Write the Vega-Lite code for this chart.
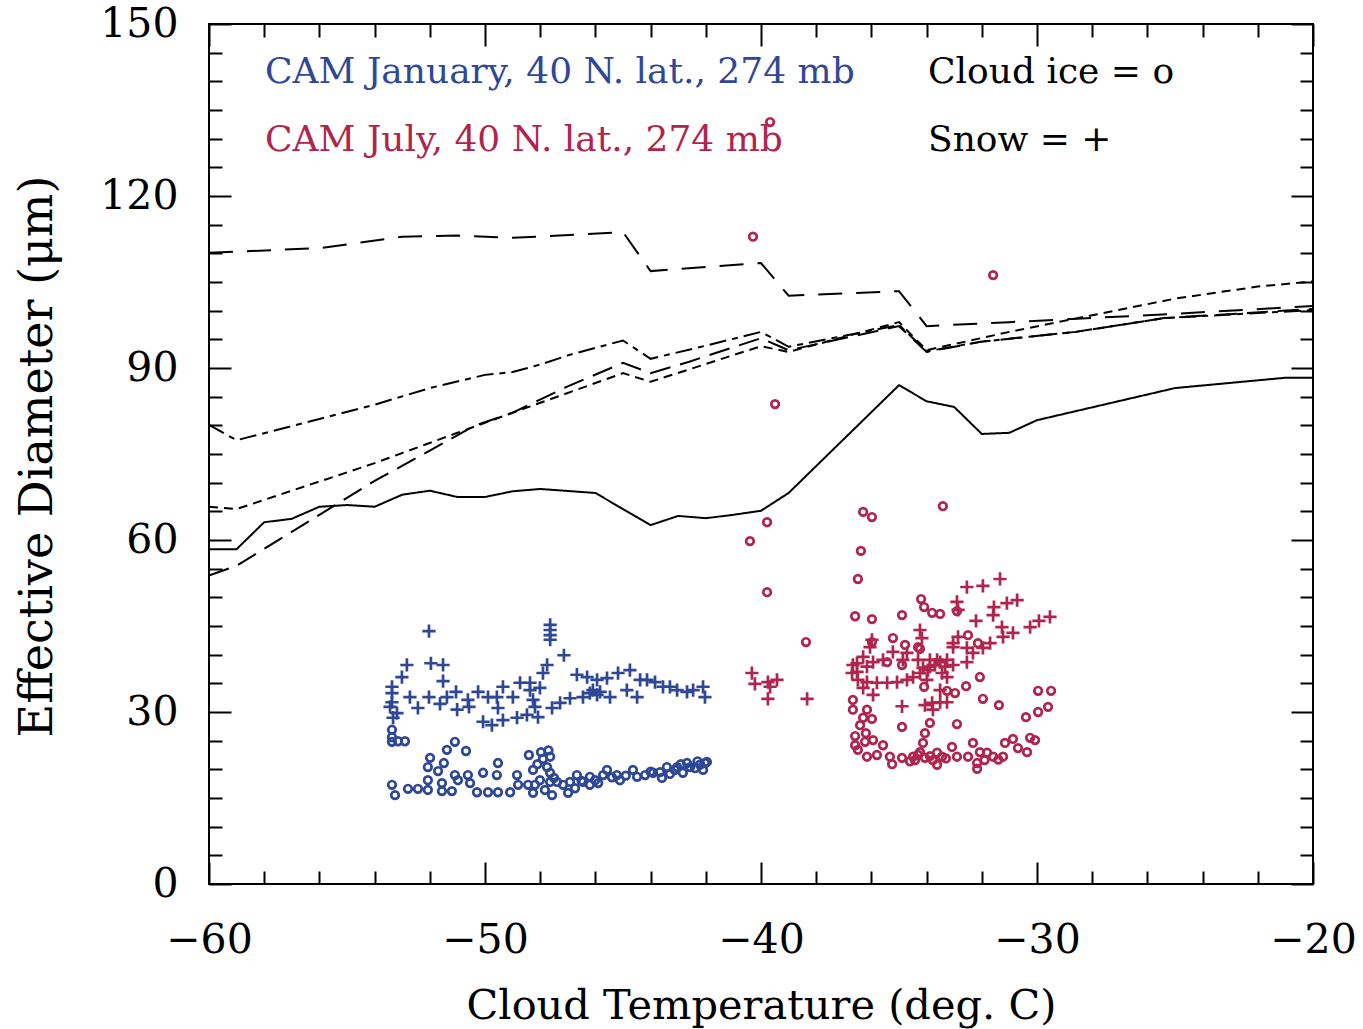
{
  "$schema": "https://vega.github.io/schema/vega-lite/v6.json",
  "width": 1104,
  "height": 860,
  "autosize": {"type": "none"},
  "padding": {"left": 209, "top": 24, "right": 50, "bottom": 145},
  "background": "white",
  "config": {
    "view": {"stroke": "black", "strokeWidth": 2},
    "axis": {"labelFont": "DejaVu Serif", "titleFont": "DejaVu Serif", "labelColor": "black", "titleColor": "black", "grid": false, "domain": false, "tickColor": "black", "tickWidth": 2, "titleFontWeight": "normal", "labelFlush": false, "labelOverlap": false}
  },
  "datasets": {
    "lines": [
      {"s":"A","t":-60,"d":110.1},{"s":"A","t":-56,"d":110.9},{"s":"A","t":-53,"d":112.9},{"s":"A","t":-51,"d":113.1},{"s":"A","t":-49,"d":112.7},{"s":"A","t":-45,"d":113.7},{"s":"A","t":-44,"d":106.9},{"s":"A","t":-40,"d":108.3},{"s":"A","t":-39,"d":102.6},{"s":"A","t":-35,"d":103.4},{"s":"A","t":-34,"d":97.3},{"s":"A","t":-31,"d":98.0},{"s":"A","t":-26,"d":99.2},{"s":"A","t":-20,"d":100.8},
      {"s":"B","t":-60,"d":80.1},{"s":"B","t":-59,"d":77.4},{"s":"B","t":-54,"d":83.6},{"s":"B","t":-52,"d":86.5},{"s":"B","t":-50,"d":88.8},{"s":"B","t":-49,"d":89.3},{"s":"B","t":-48,"d":90.6},{"s":"B","t":-47,"d":92.2},{"s":"B","t":-46,"d":93.5},{"s":"B","t":-45,"d":94.8},{"s":"B","t":-44,"d":91.6},{"s":"B","t":-42,"d":93.9},{"s":"B","t":-40,"d":96.3},{"s":"B","t":-39,"d":93.7},{"s":"B","t":-35,"d":97.5},{"s":"B","t":-34,"d":92.9},{"s":"B","t":-32,"d":94.6},{"s":"B","t":-28.6,"d":96.3},{"s":"B","t":-25.4,"d":98.7},{"s":"B","t":-20,"d":100.1},
      {"s":"C","t":-60,"d":65.8},{"s":"C","t":-59,"d":65.4},{"s":"C","t":-54,"d":73.4},{"s":"C","t":-51,"d":78.7},{"s":"C","t":-49,"d":82.2},{"s":"C","t":-45,"d":89.1},{"s":"C","t":-44,"d":87.6},{"s":"C","t":-40,"d":93.8},{"s":"C","t":-39,"d":92.8},{"s":"C","t":-35,"d":98.0},{"s":"C","t":-34,"d":93.1},{"s":"C","t":-31,"d":96.3},{"s":"C","t":-28,"d":99.2},{"s":"C","t":-25,"d":102.1},{"s":"C","t":-22,"d":104.2},{"s":"C","t":-20,"d":105.1},
      {"s":"D","t":-60,"d":53.8},{"s":"D","t":-59,"d":55.5},{"s":"D","t":-54,"d":70.3},{"s":"D","t":-52,"d":75.6},{"s":"D","t":-50.4,"d":79.9},{"s":"D","t":-49,"d":82.2},{"s":"D","t":-47,"d":86.8},{"s":"D","t":-45,"d":90.9},{"s":"D","t":-44,"d":89.1},{"s":"D","t":-42.6,"d":91.1},{"s":"D","t":-40,"d":95.2},{"s":"D","t":-39,"d":93.1},{"s":"D","t":-35,"d":97.3},{"s":"D","t":-34,"d":92.8},{"s":"D","t":-32,"d":94.6},{"s":"D","t":-28.6,"d":96.3},{"s":"D","t":-25.4,"d":98.7},{"s":"D","t":-20,"d":100.3},
      {"s":"E","t":-60,"d":58.4},{"s":"E","t":-59,"d":58.4},{"s":"E","t":-58,"d":63.1},{"s":"E","t":-57,"d":63.7},{"s":"E","t":-56,"d":65.8},{"s":"E","t":-55,"d":66.1},{"s":"E","t":-54,"d":65.8},{"s":"E","t":-53,"d":67.9},{"s":"E","t":-52,"d":68.6},{"s":"E","t":-51,"d":67.5},{"s":"E","t":-50,"d":67.5},{"s":"E","t":-49,"d":68.5},{"s":"E","t":-48,"d":68.9},{"s":"E","t":-46,"d":68.2},{"s":"E","t":-44,"d":62.6},{"s":"E","t":-43,"d":64.2},{"s":"E","t":-42,"d":63.8},{"s":"E","t":-41,"d":64.4},{"s":"E","t":-40,"d":65.1},{"s":"E","t":-39,"d":68.2},{"s":"E","t":-35,"d":87.0},{"s":"E","t":-34,"d":84.2},{"s":"E","t":-33,"d":83.2},{"s":"E","t":-32,"d":78.5},{"s":"E","t":-31,"d":78.7},{"s":"E","t":-30,"d":80.9},{"s":"E","t":-25,"d":86.5},{"s":"E","t":-21,"d":88.3},{"s":"E","t":-20,"d":88.3}
    ],
    "ice": [
      {"m":"Jan","t":-53.37,"d":26.9},{"m":"Jan","t":-53.37,"d":25.6},{"m":"Jan","t":-53.37,"d":24.8},{"m":"Jan","t":-53.15,"d":24.9},{"m":"Jan","t":-52.9,"d":24.9},{"m":"Jan","t":-51.09,"d":24.8},{"m":"Jan","t":-51.38,"d":23.4},{"m":"Jan","t":-50.69,"d":23.2},{"m":"Jan","t":-51.99,"d":22.0},{"m":"Jan","t":-52.07,"d":20.4},{"m":"Jan","t":-51.49,"d":21.1},{"m":"Jan","t":-51.7,"d":19.7},{"m":"Jan","t":-52.07,"d":18.1},{"m":"Jan","t":-51.09,"d":19.0},{"m":"Jan","t":-50.98,"d":18.1},{"m":"Jan","t":-50.62,"d":19.0},{"m":"Jan","t":-50.54,"d":17.6},{"m":"Jan","t":-50.07,"d":19.4},{"m":"Jan","t":-49.57,"d":19.0},{"m":"Jan","t":-49.53,"d":21.1},{"m":"Jan","t":-48.84,"d":19.0},{"m":"Jan","t":-48.41,"d":22.5},{"m":"Jan","t":-47.97,"d":23.0},{"m":"Jan","t":-47.64,"d":22.2},{"m":"Jan","t":-48.26,"d":19.9},{"m":"Jan","t":-47.75,"d":20.4},{"m":"Jan","t":-47.64,"d":19.4},{"m":"Jan","t":-53.37,"d":17.3},{"m":"Jan","t":-53.26,"d":15.5},{"m":"Jan","t":-52.79,"d":16.6},{"m":"Jan","t":-52.43,"d":16.6},{"m":"Jan","t":-52.07,"d":16.4},{"m":"Jan","t":-51.56,"d":17.6},{"m":"Jan","t":-51.56,"d":16.2},{"m":"Jan","t":-51.2,"d":16.2},{"m":"Jan","t":-50.29,"d":16.0},{"m":"Jan","t":-49.89,"d":16.0},{"m":"Jan","t":-49.53,"d":16.0},{"m":"Jan","t":-49.09,"d":16.0},{"m":"Jan","t":-48.8,"d":17.3},{"m":"Jan","t":-48.44,"d":17.3},{"m":"Jan","t":-48.26,"d":15.9},{"m":"Jan","t":-47.57,"d":15.5},{"m":"Jan","t":-47.64,"d":17.8},{"m":"Jan","t":-47.39,"d":17.8},{"m":"Jan","t":-46.92,"d":17.8},{"m":"Jan","t":-46.99,"d":15.9},{"m":"Jan","t":-46.67,"d":19.0},{"m":"Jan","t":-46.45,"d":17.8},{"m":"Jan","t":-46.2,"d":17.3},{"m":"Jan","t":-46.2,"d":18.7},{"m":"Jan","t":-45.72,"d":19.0},{"m":"Jan","t":-45.58,"d":19.9},{"m":"Jan","t":-45.22,"d":19.0},{"m":"Jan","t":-44.64,"d":19.9},{"m":"Jan","t":-44.49,"d":18.7},{"m":"Jan","t":-43.91,"d":19.4},{"m":"Jan","t":-43.59,"d":18.5},{"m":"Jan","t":-43.41,"d":20.4},{"m":"Jan","t":-43.04,"d":20.4},{"m":"Jan","t":-42.68,"d":21.1},{"m":"Jan","t":-42.83,"d":19.4},{"m":"Jan","t":-42.39,"d":20.2},{"m":"Jan","t":-42.03,"d":21.1},{"m":"Jan","t":-41.96,"d":21.3},{"m":"Jan","t":-42.1,"d":19.9},{"m":"Jan","t":-47.17,"d":17.3},{"m":"Jan","t":-46.74,"d":16.7},{"m":"Jan","t":-46.01,"d":18.1},{"m":"Jan","t":-45.11,"d":18.1},{"m":"Jan","t":-44.2,"d":19.0},{"m":"Jan","t":-43.66,"d":19.5},{"m":"Jan","t":-43.12,"d":19.9},{"m":"Jan","t":-42.57,"d":20.4},{"m":"Jan","t":-42.21,"d":20.8},{"m":"Jan","t":-48.01,"d":18.1},{"m":"Jan","t":-47.83,"d":16.4},{"m":"Jan","t":-48.19,"d":17.3},{"m":"Jan","t":-47.5,"d":18.5},{"m":"Jan","t":-46.5,"d":18.0},{"m":"Jan","t":-45.9,"d":17.6},{"m":"Jan","t":-45.4,"d":18.6},{"m":"Jan","t":-44.9,"d":18.9},{"m":"Jan","t":-44.0,"d":19.6},{"m":"Jan","t":-43.3,"d":19.2},{"m":"Jan","t":-42.9,"d":20.9},{"m":"Jan","t":-42.3,"d":21.4},{"m":"Jan","t":-48.1,"d":20.9},{"m":"Jan","t":-47.9,"d":21.8},{"m":"Jan","t":-47.7,"d":23.3},
      {"m":"Jul","t":-39.78,"d":63.1},{"m":"Jul","t":-40.4,"d":59.8},{"m":"Jul","t":-39.78,"d":50.9},{"m":"Jul","t":-38.37,"d":42.2},{"m":"Jul","t":-36.3,"d":64.9},{"m":"Jul","t":-35.98,"d":64.0},{"m":"Jul","t":-33.41,"d":65.9},{"m":"Jul","t":-36.38,"d":58.1},{"m":"Jul","t":-36.49,"d":53.2},{"m":"Jul","t":-36.59,"d":46.7},{"m":"Jul","t":-35.98,"d":46.2},{"m":"Jul","t":-34.89,"d":46.9},{"m":"Jul","t":-34.2,"d":49.7},{"m":"Jul","t":-34.09,"d":48.3},{"m":"Jul","t":-33.8,"d":47.3},{"m":"Jul","t":-33.51,"d":47.1},{"m":"Jul","t":-32.9,"d":47.6},{"m":"Jul","t":-35.22,"d":42.9},{"m":"Jul","t":-34.78,"d":41.7},{"m":"Jul","t":-34.31,"d":41.3},{"m":"Jul","t":-32.5,"d":43.4},{"m":"Jul","t":-32.14,"d":42.0},{"m":"Jul","t":-35.98,"d":42.2},{"m":"Jul","t":-32.07,"d":36.1},{"m":"Jul","t":-32.57,"d":34.5},{"m":"Jul","t":-34.09,"d":34.4},{"m":"Jul","t":-33.26,"d":33.7},{"m":"Jul","t":-32.97,"d":33.3},{"m":"Jul","t":-31.96,"d":32.3},{"m":"Jul","t":-31.38,"d":31.2},{"m":"Jul","t":-29.96,"d":33.7},{"m":"Jul","t":-29.49,"d":33.7},{"m":"Jul","t":-29.6,"d":30.9},{"m":"Jul","t":-29.96,"d":30.0},{"m":"Jul","t":-30.4,"d":29.1},{"m":"Jul","t":-34.89,"d":27.4},{"m":"Jul","t":-33.88,"d":28.1},{"m":"Jul","t":-32.9,"d":27.9},{"m":"Jul","t":-36.67,"d":32.1},{"m":"Jul","t":-36.67,"d":30.4},{"m":"Jul","t":-36.16,"d":30.4},{"m":"Jul","t":-36.3,"d":29.0},{"m":"Jul","t":-35.98,"d":28.8},{"m":"Jul","t":-36.41,"d":27.7},{"m":"Jul","t":-36.59,"d":25.8},{"m":"Jul","t":-36.2,"d":26.3},{"m":"Jul","t":-36.59,"d":24.2},{"m":"Jul","t":-36.23,"d":24.8},{"m":"Jul","t":-35.94,"d":25.1},{"m":"Jul","t":-36.49,"d":23.4},{"m":"Jul","t":-36.16,"d":22.2},{"m":"Jul","t":-35.58,"d":24.2},{"m":"Jul","t":-35.8,"d":22.5},{"m":"Jul","t":-35.33,"d":22.2},{"m":"Jul","t":-35.25,"d":20.9},{"m":"Jul","t":-34.89,"d":22.0},{"m":"Jul","t":-34.49,"d":22.2},{"m":"Jul","t":-34.24,"d":23.0},{"m":"Jul","t":-34.13,"d":24.6},{"m":"Jul","t":-34.06,"d":26.3},{"m":"Jul","t":-33.88,"d":22.3},{"m":"Jul","t":-33.62,"d":22.9},{"m":"Jul","t":-33.62,"d":20.8},{"m":"Jul","t":-33.44,"d":22.2},{"m":"Jul","t":-33.08,"d":23.9},{"m":"Jul","t":-32.9,"d":22.2},{"m":"Jul","t":-32.5,"d":22.2},{"m":"Jul","t":-32.32,"d":24.6},{"m":"Jul","t":-32.07,"d":23.0},{"m":"Jul","t":-32.17,"d":21.1},{"m":"Jul","t":-32.17,"d":20.1},{"m":"Jul","t":-31.81,"d":22.9},{"m":"Jul","t":-31.59,"d":22.2},{"m":"Jul","t":-31.23,"d":22.2},{"m":"Jul","t":-31.16,"d":24.6},{"m":"Jul","t":-30.87,"d":25.3},{"m":"Jul","t":-30.69,"d":23.7},{"m":"Jul","t":-30.36,"d":23.0},{"m":"Jul","t":-30.25,"d":25.5},{"m":"Jul","t":-30.07,"d":25.1},{"m":"Jul","t":-34.24,"d":41.0},{"m":"Jul","t":-35.43,"d":38.7},{"m":"Jul","t":-34.89,"d":38.2},{"m":"Jul","t":-40.29,"d":112.9},{"m":"Jul","t":-31.59,"d":106.2},{"m":"Jul","t":-39.49,"d":83.7},{"m":"Jul","t":-39.67,"d":132.9},{"m":"Jul","t":-34.31,"d":22.5},{"m":"Jul","t":-34.06,"d":22.0},{"m":"Jul","t":-33.77,"d":21.6},{"m":"Jul","t":-34.42,"d":21.6},{"m":"Jul","t":-34.6,"d":21.4},{"m":"Jul","t":-33.3,"d":21.9},{"m":"Jul","t":-31.9,"d":21.6},{"m":"Jul","t":-31.4,"d":21.7}
    ],
    "snow": [
      {"m":"Jan","t":-52.03,"d":44.1},{"m":"Jan","t":-47.64,"d":45.2},{"m":"Jan","t":-47.64,"d":44.3},{"m":"Jan","t":-47.64,"d":43.4},{"m":"Jan","t":-47.64,"d":42.6},{"m":"Jan","t":-47.14,"d":39.9},{"m":"Jan","t":-52.83,"d":38.2},{"m":"Jan","t":-51.96,"d":38.5},{"m":"Jan","t":-51.52,"d":38.2},{"m":"Jan","t":-53.01,"d":36.1},{"m":"Jan","t":-51.52,"d":35.4},{"m":"Jan","t":-53.37,"d":34.4},{"m":"Jan","t":-53.37,"d":33.3},{"m":"Jan","t":-53.37,"d":31.7},{"m":"Jan","t":-52.72,"d":32.6},{"m":"Jan","t":-52.03,"d":32.6},{"m":"Jan","t":-51.38,"d":32.6},{"m":"Jan","t":-51.05,"d":33.5},{"m":"Jan","t":-52.43,"d":30.7},{"m":"Jan","t":-51.63,"d":31.4},{"m":"Jan","t":-51.01,"d":30.4},{"m":"Jan","t":-50.62,"d":32.1},{"m":"Jan","t":-50.58,"d":30.9},{"m":"Jan","t":-50.25,"d":33.5},{"m":"Jan","t":-49.89,"d":32.6},{"m":"Jan","t":-49.57,"d":32.6},{"m":"Jan","t":-49.53,"d":30.7},{"m":"Jan","t":-49.35,"d":34.4},{"m":"Jan","t":-48.99,"d":32.6},{"m":"Jan","t":-48.73,"d":35.1},{"m":"Jan","t":-48.37,"d":35.1},{"m":"Jan","t":-48.37,"d":33.8},{"m":"Jan","t":-48.26,"d":32.1},{"m":"Jan","t":-48.19,"d":30.9},{"m":"Jan","t":-47.9,"d":36.8},{"m":"Jan","t":-47.75,"d":38.2},{"m":"Jan","t":-48.01,"d":34.2},{"m":"Jan","t":-50.07,"d":28.3},{"m":"Jan","t":-49.75,"d":27.7},{"m":"Jan","t":-49.35,"d":28.6},{"m":"Jan","t":-48.84,"d":29.0},{"m":"Jan","t":-48.48,"d":29.5},{"m":"Jan","t":-48.08,"d":29.1},{"m":"Jan","t":-47.57,"d":30.7},{"m":"Jan","t":-47.28,"d":31.6},{"m":"Jan","t":-46.92,"d":32.4},{"m":"Jan","t":-46.67,"d":36.5},{"m":"Jan","t":-46.3,"d":36.1},{"m":"Jan","t":-45.94,"d":35.6},{"m":"Jan","t":-45.58,"d":35.9},{"m":"Jan","t":-46.45,"d":32.6},{"m":"Jan","t":-46.2,"d":33.3},{"m":"Jan","t":-45.94,"d":33.0},{"m":"Jan","t":-45.47,"d":32.6},{"m":"Jan","t":-45.18,"d":36.8},{"m":"Jan","t":-44.75,"d":37.3},{"m":"Jan","t":-44.86,"d":33.8},{"m":"Jan","t":-44.49,"d":32.6},{"m":"Jan","t":-44.38,"d":35.6},{"m":"Jan","t":-44.13,"d":35.6},{"m":"Jan","t":-43.84,"d":35.2},{"m":"Jan","t":-43.55,"d":34.4},{"m":"Jan","t":-43.3,"d":34.4},{"m":"Jan","t":-43.04,"d":33.8},{"m":"Jan","t":-42.68,"d":33.5},{"m":"Jan","t":-42.46,"d":33.8},{"m":"Jan","t":-42.1,"d":34.4},{"m":"Jan","t":-42.03,"d":32.6},{"m":"Jan","t":-53.19,"d":29.8},{"m":"Jan","t":-53.33,"d":29.0},{"m":"Jan","t":-53.44,"d":30.9},{"m":"Jan","t":-46.09,"d":33.8},{"m":"Jan","t":-45.83,"d":33.5},
      {"m":"Jul","t":-40.33,"d":36.8},{"m":"Jul","t":-40.22,"d":34.9},{"m":"Jul","t":-39.75,"d":35.2},{"m":"Jul","t":-39.42,"d":35.6},{"m":"Jul","t":-39.75,"d":32.3},{"m":"Jul","t":-38.33,"d":32.3},{"m":"Jul","t":-39.67,"d":34.4},{"m":"Jul","t":-31.34,"d":53.2},{"m":"Jul","t":-31.96,"d":52.0},{"m":"Jul","t":-32.54,"d":51.8},{"m":"Jul","t":-32.9,"d":49.2},{"m":"Jul","t":-32.86,"d":47.8},{"m":"Jul","t":-31.56,"d":48.3},{"m":"Jul","t":-31.09,"d":49.0},{"m":"Jul","t":-30.72,"d":49.5},{"m":"Jul","t":-32.21,"d":45.9},{"m":"Jul","t":-31.59,"d":46.9},{"m":"Jul","t":-31.27,"d":44.8},{"m":"Jul","t":-29.53,"d":46.6},{"m":"Jul","t":-29.93,"d":45.9},{"m":"Jul","t":-30.25,"d":44.8},{"m":"Jul","t":-30.87,"d":43.8},{"m":"Jul","t":-31.23,"d":43.1},{"m":"Jul","t":-31.7,"d":42.0},{"m":"Jul","t":-31.96,"d":41.2},{"m":"Jul","t":-32.32,"d":40.3},{"m":"Jul","t":-32.54,"d":38.7},{"m":"Jul","t":-33.04,"d":38.2},{"m":"Jul","t":-33.26,"d":39.1},{"m":"Jul","t":-33.04,"d":41.3},{"m":"Jul","t":-32.86,"d":43.1},{"m":"Jul","t":-33.62,"d":39.1},{"m":"Jul","t":-33.88,"d":37.9},{"m":"Jul","t":-34.13,"d":37.7},{"m":"Jul","t":-34.24,"d":36.8},{"m":"Jul","t":-34.49,"d":36.1},{"m":"Jul","t":-34.71,"d":35.6},{"m":"Jul","t":-35.07,"d":35.2},{"m":"Jul","t":-35.43,"d":35.1},{"m":"Jul","t":-35.8,"d":35.1},{"m":"Jul","t":-36.16,"d":35.2},{"m":"Jul","t":-36.49,"d":35.6},{"m":"Jul","t":-36.52,"d":37.0},{"m":"Jul","t":-36.52,"d":38.5},{"m":"Jul","t":-36.3,"d":39.6},{"m":"Jul","t":-35.98,"d":42.6},{"m":"Jul","t":-36.05,"d":41.3},{"m":"Jul","t":-36.16,"d":37.9},{"m":"Jul","t":-35.94,"d":38.7},{"m":"Jul","t":-35.58,"d":39.1},{"m":"Jul","t":-35.22,"d":40.5},{"m":"Jul","t":-34.86,"d":39.1},{"m":"Jul","t":-34.24,"d":44.3},{"m":"Jul","t":-34.17,"d":42.9},{"m":"Jul","t":-34.71,"d":40.3},{"m":"Jul","t":-34.31,"d":39.1},{"m":"Jul","t":-33.04,"d":42.0},{"m":"Jul","t":-32.54,"d":41.2},{"m":"Jul","t":-36.3,"d":34.2},{"m":"Jul","t":-35.94,"d":33.0},{"m":"Jul","t":-33.99,"d":35.6},{"m":"Jul","t":-33.44,"d":36.8},{"m":"Jul","t":-33.26,"d":36.1},{"m":"Jul","t":-33.51,"d":33.8},{"m":"Jul","t":-34.89,"d":31.0},{"m":"Jul","t":-34.06,"d":31.2},{"m":"Jul","t":-33.8,"d":31.6},{"m":"Jul","t":-33.51,"d":31.7},{"m":"Jul","t":-33.26,"d":31.7},{"m":"Jul","t":-33.77,"d":30.4},{"m":"Jul","t":-36.67,"d":38.2},{"m":"Jul","t":-36.7,"d":36.8},{"m":"Jul","t":-33.88,"d":39.1},{"m":"Jul","t":-33.7,"d":38.2},{"m":"Jul","t":-33.51,"d":38.7},{"m":"Jul","t":-33.33,"d":37.9},{"m":"Jul","t":-33.95,"d":37.3}
    ],
    "txt": [
      {"m":"Jan","t":-57.97,"d":141.6,"label":"CAM January, 40 N. lat., 274 mb"},
      {"m":"Jul","t":-57.97,"d":129.8,"label":"CAM July, 40 N. lat., 274 mb"},
      {"m":"key","t":-33.95,"d":141.6,"label":"Cloud ice = o"},
      {"m":"key","t":-33.95,"d":129.8,"label":"Snow = +"}
    ]
  },
  "resolve": {"axis": {"x": "independent", "y": "independent"}},
  "layer": [
    {
      "data": {"name": "lines"},
      "mark": {"type": "line", "color": "black", "strokeWidth": 2},
      "encoding": {
        "x": {"field": "t", "type": "quantitative", "scale": {"domain": [-60, -20], "nice": false, "zero": false},
          "axis": {"orient": "bottom", "values": [-60, -50, -40, -30, -20], "ticks": false, "labelPadding": 36, "labelFontSize": 41, "title": "Cloud Temperature (deg. C)", "titleFontSize": 41.5, "titleY": 122, "titleBaseline": "middle"}},
        "y": {"field": "d", "type": "quantitative", "scale": {"domain": [0, 150], "nice": false, "zero": false},
          "axis": {"orient": "left", "values": [0, 30, 60, 90, 120, 150], "ticks": false, "labelPadding": 31, "labelFontSize": 41, "title": "Effective Diameter (μm)", "titleFontSize": 46, "titleX": -172, "titleY": 432, "titleBaseline": "middle", "titleAlign": "center", "titleAngle": -90}},
        "strokeDash": {"field": "s", "type": "nominal", "scale": {"domain": ["A", "B", "C", "D", "E"], "range": [[24, 14], [17, 6, 6, 6], [9, 6], [21, 10], [1, 0]]}, "legend": null},
        "detail": {"field": "s"}
      }
    },
    {
      "data": {"name": "ice"},
      "mark": {"type": "point", "shape": "circle", "filled": false, "size": 58, "strokeWidth": 2.7, "opacity": 1},
      "encoding": {
        "x": {"field": "t", "type": "quantitative", "scale": {"domain": [-60, -20], "nice": false, "zero": false},
          "axis": {"orient": "bottom", "values": [-60, -50, -40, -30, -20], "labels": false, "tickSize": -22, "title": null}},
        "y": {"field": "d", "type": "quantitative", "scale": {"domain": [0, 150], "nice": false, "zero": false},
          "axis": {"orient": "left", "values": [0, 30, 60, 90, 120, 150], "labels": false, "tickSize": -22, "title": null}},
        "color": {"field": "m", "type": "nominal", "scale": {"domain": ["Jan", "Jul", "key"], "range": ["#2f4896", "#b0254e", "#000000"]}, "legend": null}
      }
    },
    {
      "data": {"name": "snow"},
      "mark": {"type": "point", "shape": "M-1,0L1,0M0,-1L0,1", "filled": false, "size": 175, "strokeWidth": 2.7, "opacity": 1},
      "encoding": {
        "x": {"field": "t", "type": "quantitative", "scale": {"domain": [-60, -20], "nice": false, "zero": false},
          "axis": {"orient": "top", "values": [-60, -50, -40, -30, -20], "labels": false, "tickSize": -22, "title": null}},
        "y": {"field": "d", "type": "quantitative", "scale": {"domain": [0, 150], "nice": false, "zero": false},
          "axis": {"orient": "right", "values": [0, 30, 60, 90, 120, 150], "labels": false, "tickSize": -22, "title": null}},
        "color": {"field": "m", "type": "nominal", "scale": {"domain": ["Jan", "Jul", "key"], "range": ["#2f4896", "#b0254e", "#000000"]}, "legend": null}
      }
    },
    {
      "data": {"name": "txt"},
      "transform": [{"filter": "datum.m != 'key'"}],
      "mark": {"type": "text", "align": "left", "baseline": "middle", "font": "DejaVu Serif", "fontSize": 36},
      "encoding": {
        "x": {"field": "t", "type": "quantitative", "scale": {"domain": [-60, -20], "nice": false, "zero": false},
          "axis": {"orient": "bottom", "values": [-58, -56, -54, -52, -48, -46, -44, -42, -38, -36, -34, -32, -28, -26, -24, -22], "labels": false, "tickSize": -13, "title": null}},
        "y": {"field": "d", "type": "quantitative", "scale": {"domain": [0, 150], "nice": false, "zero": false},
          "axis": {"orient": "left", "values": [5, 10, 15, 20, 25, 35, 40, 45, 50, 55, 65, 70, 75, 80, 85, 95, 100, 105, 110, 115, 125, 130, 135, 140, 145], "labels": false, "tickSize": -13, "title": null}},
        "text": {"field": "label"},
        "color": {"field": "m", "type": "nominal", "scale": {"domain": ["Jan", "Jul", "key"], "range": ["#2f4896", "#b0254e", "#000000"]}, "legend": null}
      }
    },
    {
      "data": {"name": "txt"},
      "transform": [{"filter": "datum.m == 'key'"}],
      "mark": {"type": "text", "align": "left", "baseline": "middle", "font": "DejaVu Serif", "fontSize": 36, "color": "black"},
      "encoding": {
        "x": {"field": "t", "type": "quantitative", "scale": {"domain": [-60, -20], "nice": false, "zero": false},
          "axis": {"orient": "top", "values": [-58, -56, -54, -52, -48, -46, -44, -42, -38, -36, -34, -32, -28, -26, -24, -22], "labels": false, "tickSize": -13, "title": null}},
        "y": {"field": "d", "type": "quantitative", "scale": {"domain": [0, 150], "nice": false, "zero": false},
          "axis": {"orient": "right", "values": [5, 10, 15, 20, 25, 35, 40, 45, 50, 55, 65, 70, 75, 80, 85, 95, 100, 105, 110, 115, 125, 130, 135, 140, 145], "labels": false, "tickSize": -13, "title": null}},
        "text": {"field": "label"}
      }
    }
  ]
}
